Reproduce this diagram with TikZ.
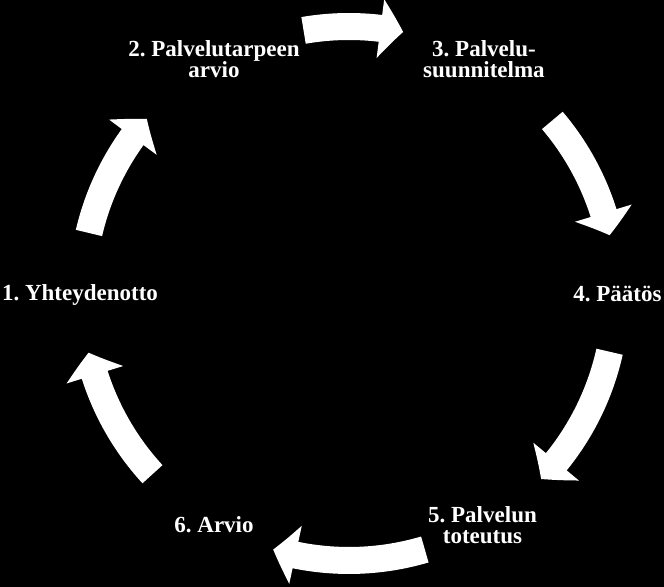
\documentclass[tikz,border=0pt]{standalone}
\usepackage{fontspec}
\setmainfont{Liberation Serif}[BoldFont={Liberation Serif Bold}]
\usetikzlibrary{arrows.meta,bending}
\frenchspacing

\begin{document}
\begin{tikzpicture}[x=0.02cm,y=0.02cm,
  every node/.style={font=\bfseries\fontsize{13.1}{12.1}\selectfont,text=white,align=center,inner sep=0pt,anchor=base},
  kaari/.style={white,line width=0.54cm,-{Triangle[width=1.16cm,length=0.46cm,bend]}}]
\fill[black] (0,0) rectangle (664,587);
\useasboundingbox (0,0) rectangle (664,587);
\coordinate (c) at (349,293.5);
\node (n1) at (80,286) {1. Yhteydenotto};
\node (n2) at (214,509) {2. Palvelutarpeen\\arvio};
\node (n3) at (484,509) {3. Palvelu-\\suunnitelma};
\node (n4) at (617.5,285) {4. Päätös};
\node (n5) at (482.5,43) {5. Palvelun\\toteutus};
\node (n6) at (214,54) {6. Arvio};
\draw[kaari] ([shift={(166.9:267)}]c) arc[start angle=166.9,end angle=139.2,radius=267];
\draw[kaari] ([shift={(99.8:267)}]c) arc[start angle=99.8,end angle=78.3,radius=267];
\draw[kaari] ([shift={(40.4:267)}]c) arc[start angle=40.4,end angle=12.6,radius=267];
\draw[kaari] ([shift={(-12.6:267)}]c) arc[start angle=-12.6,end angle=-44,radius=267];
\draw[kaari] ([shift={(-73.5:267)}]c) arc[start angle=-73.5,end angle=-106.5,radius=267];
\draw[kaari] ([shift={(222.6:267)}]c) arc[start angle=222.6,end angle=192.8,radius=267];
\end{tikzpicture}
\end{document}
